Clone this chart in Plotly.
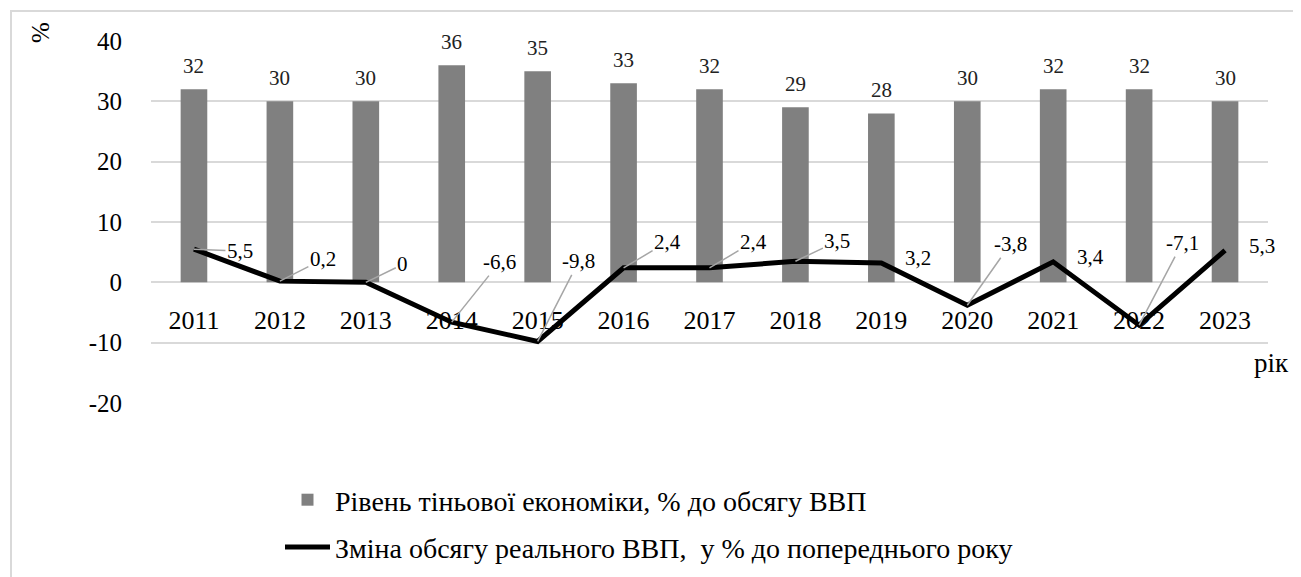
import plotly.graph_objects as go

years = ["2011", "2012", "2013", "2014", "2015", "2016", "2017", "2018", "2019", "2020", "2021", "2022", "2023"]
shadow_economy = [32, 30, 30, 36, 35, 33, 32, 29, 28, 30, 32, 32, 30]
real_gdp_change = [5.5, 0.2, 0, -6.6, -9.8, 2.4, 2.4, 3.5, 3.2, -3.8, 3.4, -7.1, 5.3]
y_tick_vals = [-20, -10, 0, 10, 20, 30, 40]
y_tick_text = ["-20", "-10", "0", "10", "20", "30", "40"]

bar_name = "Рівень тіньової економіки, % до обсягу ВВП"
line_name = "Зміна обсягу реального ВВП,  у % до попереднього року"

# label offsets (pixels) for the line data labels
label_dx = [46, 43, 37, 48, 41, 44, 44, 42, 37, 43, 37, 43, 37]
label_dy = [2, -22, -18, -60, -80, -26, -26, -20, -5, -61, -5, -82, -4]
label_leader = [True, True, True, True, True, True, True, True, False, True, False, True, False]

FONT = "Liberation Serif"
OFF = 8  # page body margin

fig = go.Figure()
fig.add_trace(go.Bar(
    x=years, y=shadow_economy, name=bar_name,
    marker=dict(color="#808080", line=dict(width=0)),
    legendgroup="a",
))
fig.add_trace(go.Scatter(
    x=years, y=real_gdp_change, name=line_name, mode="lines",
    line=dict(color="black", width=5),
    legendgroup="b",
))

annotations = []
for i, v in enumerate(shadow_economy):
    annotations.append(dict(x=i, y=v, text=str(v), showarrow=False, yshift=23,
                            font=dict(family=FONT, size=21, color="#222")))
for i, (v, dx, dy, lead) in enumerate(zip(real_gdp_change, label_dx, label_dy, label_leader)):
    txt = ("%g" % v).replace(".", ",")
    if lead:
        annotations.append(dict(x=i, y=v, text=txt, showarrow=True, ax=dx, ay=dy,
                                arrowhead=0, arrowwidth=1.5, arrowcolor="#a6a6a6",
                                standoff=0, startstandoff=0,
                                font=dict(family=FONT, size=21, color="black")))
    else:
        annotations.append(dict(x=i, y=v, text=txt, showarrow=False, xshift=dx, yshift=-dy,
                                font=dict(family=FONT, size=21, color="black")))

annotations.append(dict(xref="paper", yref="paper", x=(1271 - 151) / 1117, y=(403 - 363) / 362,
                        xanchor="center", yanchor="middle",
                        text="рік", showarrow=False, font=dict(family=FONT, size=27, color="black")))
annotations.append(dict(xref="paper", yref="paper", x=(40 - 151) / 1117, y=(403 - 33) / 362,
                        xanchor="center", yanchor="middle",
                        text="%", showarrow=False, textangle=-90,
                        font=dict(family=FONT, size=25, color="black")))

fig.update_layout(
    width=1301 - OFF, height=577 - OFF,
    margin=dict(l=151 - OFF, r=33, t=41 - OFF, b=174, autoexpand=False),
    paper_bgcolor="white", plot_bgcolor="white",
    font=dict(family=FONT, size=22, color="black"),
    bargap=0.69,
    showlegend=True,
    legend=dict(
        x=(280 - 151) / 1117, y=(403 - 475) / 362, xanchor="left", yanchor="top",
        orientation="v", traceorder="grouped", tracegroupgap=8,
        font=dict(family=FONT, size=28, color="black"),
        itemwidth=45, bgcolor="rgba(0,0,0,0)",
    ),
    annotations=annotations,
    shapes=[dict(type="rect", xref="paper", yref="paper",
                 x0=(11 - 151) / 1117, x1=(1297 - 151) / 1117,
                 y0=(403 - 600) / 362, y1=(403 - 11) / 362,
                 line=dict(color="#d9d9d9", width=2), fillcolor="rgba(0,0,0,0)", layer="below")],
)
fig.update_yaxes(
    range=[-20, 40], tickvals=y_tick_vals, ticktext=y_tick_text,
    showgrid=True, gridcolor="#d9d9d9", gridwidth=2, zeroline=False,
    showline=False, ticks="", ticklabelstandoff=28, automargin=False,
    tickfont=dict(family=FONT, size=25, color="black"),
)
fig.update_xaxes(
    type="category", range=[-0.5, 12.5], anchor="free", position=1 / 3,
    showgrid=False, zeroline=False, showline=False, ticks="", automargin=False,
    ticklabelstandoff=20, layer="below traces",
    tickfont=dict(family=FONT, size=26, color="black"),
)

fig.write_html("out.html")
